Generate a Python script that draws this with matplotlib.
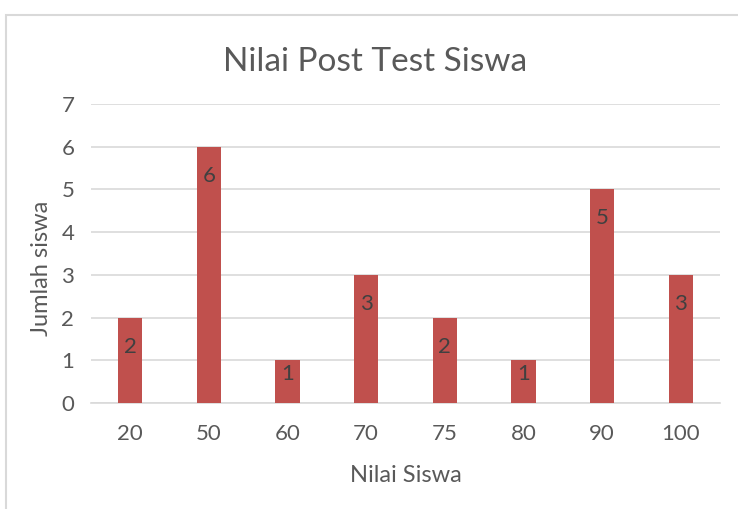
import matplotlib
matplotlib.use("Agg")
import matplotlib.pyplot as plt
from matplotlib.patches import Rectangle

categories = ["20", "50", "60", "70", "75", "80", "90", "100"]
values = [2, 6, 1, 3, 2, 1, 5, 3]
yticks = [0, 1, 2, 3, 4, 5, 6, 7]
title = "Nilai Post Test Siswa"
xlabel = "Nilai Siswa"
ylabel = "Jumlah siswa"

plt.rcParams['font.family'] = ['Lato', 'DejaVu Sans']
txt = '#595959'
bar_color = '#C0504D'

fig = plt.figure(figsize=(7.38, 5.09), dpi=100)
# chart area border (extends beyond the picture at right and bottom)
fig.patches.append(Rectangle((6/738, -0.1), 1.2, 1 - 15/509 + 0.1, transform=fig.transFigure,
                             fill=False, edgecolor='#D9D9D9', linewidth=1.5))

ax = fig.add_axes([91/738, 1 - 403/509, (720-91)/738, (403-104)/509])
x = list(range(len(categories)))
bars = ax.bar(x, values, width=0.31, color=bar_color, zorder=3)
ax.set_xlim(-0.5, len(categories) - 0.5)
ax.set_ylim(0, 7)
ax.set_yticks(yticks)
ax.set_xticks(x)
ax.set_xticklabels(categories)
ax.grid(axis='y', color='#D9D9D9', linewidth=1.2, zorder=0)
for s in ['top', 'right', 'left']:
    ax.spines[s].set_visible(False)
ax.spines['bottom'].set_color('#D9D9D9')
ax.spines['bottom'].set_linewidth(1.2)
ax.tick_params(axis='both', length=0, colors=txt, labelsize=16)
ax.tick_params(axis='x', pad=15)
ax.tick_params(axis='y', pad=12)

px_per_unit = (403 - 104) / 7
for xi, v in zip(x, values):
    off_px = min(29, v * px_per_unit - 29)
    ax.annotate(str(v), (xi, v), xytext=(0, -off_px * 0.72), textcoords='offset points',
                ha='center', va='center', color='#404040', fontsize=16, zorder=4)

ax.set_xlabel(xlabel, color=txt, fontsize=17, labelpad=15)
ax.set_ylabel(ylabel, color=txt, fontsize=17, labelpad=7)
ax.yaxis.label.set_y(0.45)
fig.text(375/738, 1 - 62/509, title, ha='center', va='center', color=txt, fontsize=24)

fig.savefig("out.png", dpi=100)
